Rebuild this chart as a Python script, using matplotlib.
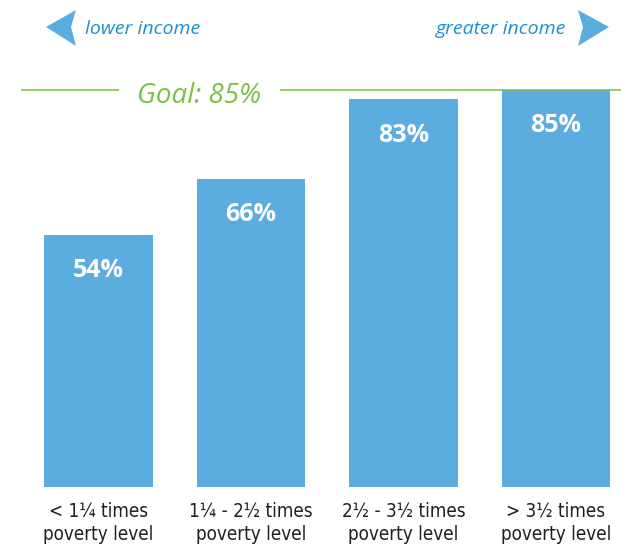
import matplotlib
matplotlib.use('Agg')
import matplotlib.pyplot as plt
from matplotlib.patches import Polygon
from matplotlib import font_manager

# data
categories = ['< 1¼ times\npoverty level', '1¼ - 2½ times\npoverty level',
              '2½ - 3½ times\npoverty level', '> 3½ times\npoverty level']
values = [54, 66, 83, 85]
goal = 85
bar_labels = ['54%', '66%', '83%', '85%']

W, H = 621, 547
BAR = '#5BACDF'
GREEN = '#7AC143'
BLUE_TXT = '#1B8FD2'

# look for a condensed sans (not serif / mono) for the category labels
cond = None
for f in font_manager.fontManager.ttflist:
    nm = f.name.lower()
    fn = f.fname.lower()
    if 'sans' not in nm or 'mono' in nm or 'serif' in nm:
        continue
    is_cond = ('condensed' in str(f.stretch)) or ('narrow' in fn) or ('condensed' in fn)
    if is_cond and f.style == 'normal' and f.weight in (400, 'normal', 'regular'):
        if cond is None or 'liberation' in fn:
            cond = f.fname
if cond:
    cat_font = font_manager.FontProperties(fname=cond, size=13.5)
else:
    cat_font = font_manager.FontProperties(family='Roboto', size=13.5)

fig = plt.figure(figsize=(W / 100, H / 100), dpi=100)
fig.patch.set_facecolor('white')

# axes bottom sits on the bar baseline (487px from top)
ax = fig.add_axes([0, 60 / H, 1, 487 / H])
ax.set_xlim(-0.646, 3.426)
ax.set_ylim(0, 104.26)

x = list(range(len(values)))
ax.bar(x, values, width=0.711, color=BAR, zorder=2)

for xi, v, lab in zip(x, values, bar_labels):
    ax.annotate(lab, (xi, v), xytext=(0, -30.5), textcoords='offset points',
                ha='center', va='baseline', color='white', fontsize=18,
                fontweight='bold', family=['Open Sans', 'DejaVu Sans'])

ax.set_xticks(x)
ax.set_xticklabels(categories, color='#231F20', linespacing=1.3,
                   fontproperties=cat_font)
ax.tick_params(axis='x', length=0, pad=10.5)
ax.set_yticks([])
for s in ax.spines.values():
    s.set_visible(False)

# goal line, broken around its label
def px2x(p):
    return (p - 98.5) / 152.5

ax.hlines(goal, px2x(21), px2x(119), color=GREEN, lw=1.1, zorder=3)
ax.hlines(goal, px2x(280), px2x(W + 5), color=GREEN, lw=1.1, zorder=3, clip_on=False)
ax.annotate('Goal: %d%%' % goal, (px2x(199), goal), xytext=(0, -9.5),
            textcoords='offset points', ha='center', va='baseline',
            color=GREEN, fontsize=20, style='italic',
            family=['Open Sans', 'DejaVu Sans'])

# direction arrows at the top
def fp(px, py):
    return (px / W, 1 - py / H)

left_arrow = [fp(46, 27), fp(76, 10), fp(71, 27), fp(76, 46)]
right_arrow = [fp(609, 27), fp(578, 10), fp(583, 27), fp(578, 46)]
for pts in (left_arrow, right_arrow):
    fig.patches.append(Polygon(pts, closed=True, transform=fig.transFigure,
                               facecolor=BAR, edgecolor='none'))

fig.text(85 / W, 1 - 34 / H, 'lower income', ha='left', va='baseline',
         color=BLUE_TXT, fontsize=14, style='italic', family=['Open Sans', 'DejaVu Sans'])
fig.text(566 / W, 1 - 34 / H, 'greater income', ha='right', va='baseline',
         color=BLUE_TXT, fontsize=14, style='italic', family=['Open Sans', 'DejaVu Sans'])

fig.savefig('out.png', dpi=100, facecolor='white')
